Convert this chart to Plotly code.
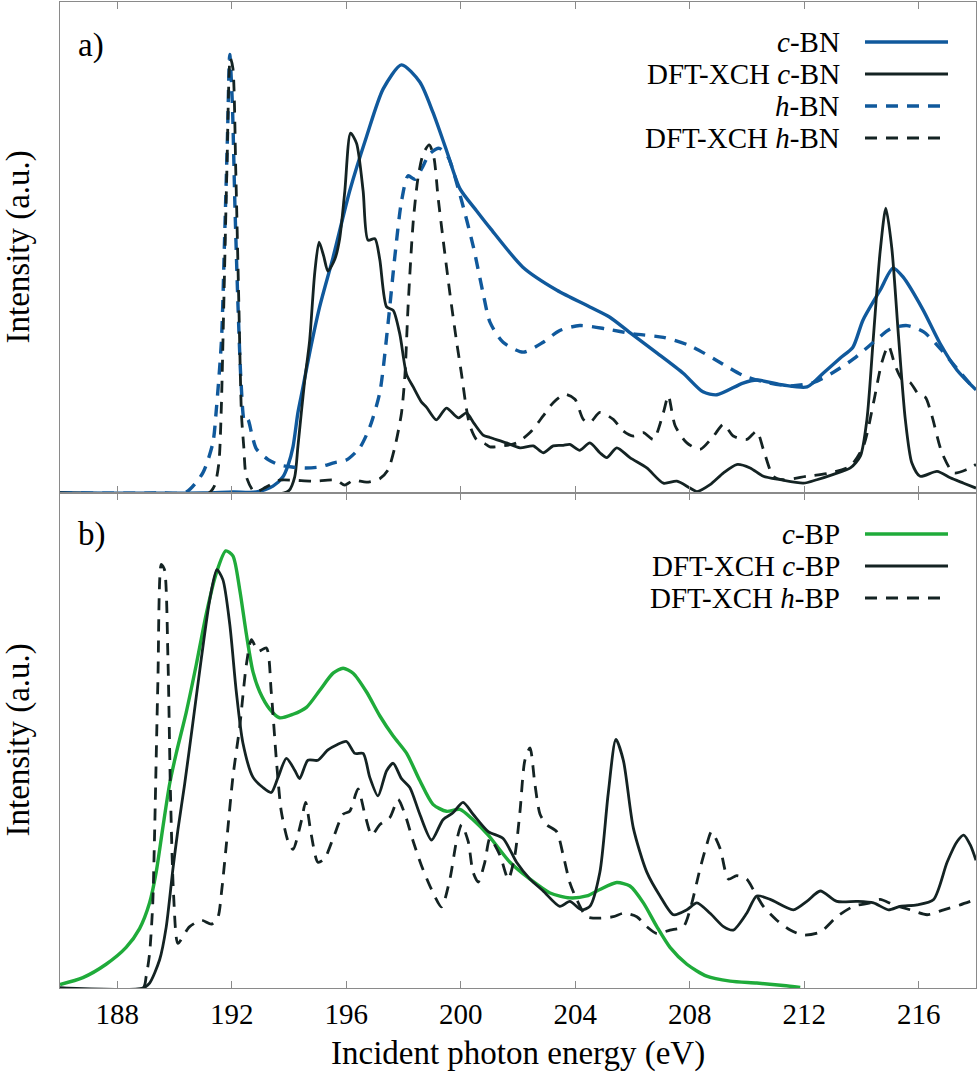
import plotly.graph_objects as go
from plotly.subplots import make_subplots

# ---------------- data (energy in eV, intensity in a.u.) ----------------
cbn_e = [186.0, 191.0, 192.04, 192.86, 193.44, 193.79, 193.97, 194.14, 194.31, 194.47,
         194.72, 195.07, 195.54, 196.12, 196.71, 197.29, 197.93, 198.57, 199.03, 199.50,
         199.97, 200.55, 201.02, 202.17, 203.36, 204.51, 205.21, 205.92, 206.86, 207.77,
         208.46, 208.95, 209.86, 210.35, 211.26, 212.10, 212.66, 213.26, 213.70, 214.05,
         214.65, 215.10, 215.45, 216.15, 216.74, 217.34, 218.0]
cbn_i = [0, 0, 0.2, 0.2, 1.4, 3.3, 5.7, 9.4, 16.3, 21.0,
         28.5, 37.9, 48.0, 61.5, 72.6, 82.3, 87.2, 83.7, 77.5, 69.8,
         62.0, 57.5, 54.0, 46.0, 41.3, 37.9, 35.8, 32.6, 28.5, 24.4,
         20.6, 20.0, 22.4, 23.0, 22.0, 21.6, 24.4, 27.5, 29.7, 35.2,
         41.3, 45.8, 44.0, 37.3, 30.5, 25.0, 21.0]

dft_cbn_e = [186.0, 193.8, 194.0, 194.2, 194.31, 194.43, 194.55, 194.72, 194.90, 195.05,
             195.21, 195.36, 195.60, 195.77, 195.95, 196.15, 196.36, 196.59, 196.76, 197.00,
             197.17, 197.41, 197.64, 197.87, 198.11, 198.34, 198.63, 198.80, 199.15, 199.50,
             199.91, 200.20, 200.45, 200.78, 201.02, 201.60, 202.07, 202.53, 202.88, 203.23,
             203.58, 203.81, 204.16, 204.51, 204.86, 205.10, 205.45, 205.91, 206.50, 207.08,
             207.55, 208.01, 208.25, 208.71, 209.18, 209.64, 210.11, 210.57, 211.16, 211.97,
             212.44, 213.02, 213.61, 213.96, 214.19, 214.42, 214.65, 214.85, 215.06, 215.29,
             215.53, 215.76, 216.05, 216.64, 217.10, 217.57, 218.0]
dft_cbn_i = [0, 0, 0.5, 3.3, 9.4, 16.3, 23.0, 31.0, 44.9, 51.1,
             48.3, 45.2, 47.6, 51.8, 61.5, 73.3, 71.2, 61.5, 51.5, 51.8,
             47.6, 37.9, 37.2, 32.4, 24.1, 21.6, 18.5, 17.5, 14.9, 17.3,
             15.3, 16.3, 14.3, 11.8, 11.3, 10.2, 9.2, 9.6, 8.2, 9.6,
             9.7, 9.9, 8.7, 10.2, 8.2, 7.2, 9.2, 7.2, 5.1, 2.0,
             2.4, 1.0, 0.3, 1.7, 4.1, 5.8, 5.1, 3.4, 2.7, 2.0,
             2.7, 3.8, 5.1, 7.5, 15.0, 32.1, 49.1, 58.0, 49.8, 32.1,
             15.0, 6.1, 3.4, 4.4, 3.1, 2.0, 1.0]

hbn_e = [186.0, 189.5, 190.41, 190.99, 191.34, 191.46, 191.64, 191.75, 191.85, 191.93,
         192.02, 192.11, 192.22, 192.33, 192.45, 192.56, 192.70, 192.86, 193.27, 193.67,
         194.10, 194.60, 195.07, 195.60, 196.00, 196.47, 196.82, 197.17, 197.46, 197.70,
         197.93, 198.16, 198.40, 198.63, 198.92, 199.25, 199.56, 199.97, 200.43, 200.78,
         201.02, 201.48, 202.18, 202.88, 203.46, 204.16, 205.10, 206.03, 207.08, 208.01,
         208.94, 209.87, 210.69, 211.51, 212.32, 213.02, 213.72, 214.42, 215.00, 215.59,
         216.17, 216.75, 217.34, 218.0]
hbn_i = [0, 0, 0.2, 4.1, 10.2, 16.9, 31.0, 51.8, 72.6, 89.3,
         79.5, 58.7, 37.9, 22.0, 14.5, 15.0, 12.0, 9.0, 6.8, 5.7,
         5.3, 5.1, 5.3, 6.2, 6.7, 9.2, 13.4, 20.4, 34.5, 48.3,
         59.4, 64.6, 63.9, 66.0, 69.1, 70.2, 68.4, 60.8, 50.4, 40.7,
         34.8, 30.7, 28.7, 30.7, 33.1, 34.1, 33.4, 32.4, 31.7, 30.0,
         27.0, 23.9, 22.5, 21.8, 22.5, 24.6, 27.3, 30.7, 33.4, 34.1,
         32.8, 29.4, 25.3, 20.8]

dft_hbn_e = [186.0, 191.2, 191.40, 191.55, 191.63, 191.72, 191.83, 191.95, 192.04, 192.14,
             192.25, 192.34, 192.42, 192.51, 192.80, 193.20, 193.67, 194.14, 194.84, 195.65,
             195.95, 196.25, 196.71, 197.17, 197.46, 197.70, 197.93, 198.05, 198.16, 198.34,
             198.51, 198.69, 198.90, 199.06, 199.21, 199.38, 199.62, 199.85, 200.03, 200.20,
             200.32, 200.55, 200.85, 201.02, 201.48, 201.95, 202.42, 202.88, 203.23, 203.64,
             203.99, 204.28, 204.51, 204.86, 205.33, 205.68, 206.03, 206.38, 206.73, 207.08,
             207.25, 207.49, 207.90, 208.36, 208.83, 209.18, 209.52, 209.99, 210.34, 210.57,
             210.92, 211.27, 212.09, 212.91, 213.61, 214.07, 214.42, 214.71, 214.94, 215.18,
             215.41, 215.70, 215.99, 216.23, 216.46, 216.81, 217.22, 217.69, 218.0]
dft_hbn_i = [0, 0, 1.5, 6.1, 16.3, 37.9, 65.7, 88.6, 86.5, 65.7,
             37.9, 16.0, 9.4, 3.3, 0.2, 1.2, 2.6, 2.6, 2.4, 2.6,
             1.6, 2.6, 2.2, 2.9, 4.7, 9.4, 16.3, 24.0, 38.0, 55.3,
             64.3, 69.1, 70.9, 68.4, 60.1, 51.8, 40.7, 31.0, 24.1, 17.1,
             13.7, 10.9, 10.0, 9.4, 9.6, 10.2, 12.3, 15.7, 18.4, 20.1,
             19.1, 15.0, 14.3, 16.4, 15.0, 12.6, 11.6, 12.3, 10.9, 16.4,
             19.8, 13.7, 10.2, 8.9, 11.6, 14.0, 11.6, 10.9, 12.6, 8.9,
             3.4, 2.7, 3.4, 4.1, 5.5, 9.6, 18.4, 26.6, 30.0, 25.9,
             23.2, 22.5, 20.1, 19.5, 15.7, 8.2, 4.1, 4.8, 5.8]

cbp_e = [186.0, 186.80, 187.61, 188.31, 188.78, 189.13, 189.36, 189.59, 189.83, 190.06,
         190.41, 190.76, 191.11, 191.46, 191.79, 192.04, 192.28, 192.51, 192.74, 192.98,
         193.32, 193.67, 194.14, 194.61, 195.07, 195.54, 195.89, 196.24, 196.71, 197.17,
         197.64, 198.11, 198.57, 199.03, 199.50, 199.97, 200.43, 200.96, 201.72, 202.42,
         203.12, 203.81, 204.40, 204.86, 205.45, 205.91, 206.38, 206.85, 207.31, 207.90,
         208.59, 209.41, 210.34, 211.27, 211.86]
cbp_i = [0.7, 2.1, 4.8, 8.2, 12.0, 17.2, 23.4, 32.3, 41.2, 47.4,
         55.7, 65.3, 75.6, 83.8, 88.3, 87.3, 80.4, 71.5, 63.9, 59.8,
         56.4, 54.6, 55.3, 56.7, 60.1, 63.6, 64.6, 63.6, 59.8, 55.0,
         50.9, 47.4, 41.9, 37.1, 35.7, 36.1, 34.0, 30.9, 25.4, 22.0,
         19.2, 18.2, 18.6, 19.9, 21.3, 20.6, 17.2, 12.4, 8.2, 4.8,
         2.4, 1.4, 1.0, 0.5, 0.1]

dft_cbp_e = [186.0, 188.9, 189.13, 189.48, 189.71, 189.94, 190.12, 190.35, 190.64, 190.94,
             191.23, 191.48, 191.69, 191.93, 192.16, 192.39, 192.74, 193.09, 193.38, 193.62,
             193.91, 194.20, 194.37, 194.66, 195.01, 195.36, 195.66, 196.01, 196.30, 196.59,
             196.82, 197.11, 197.41, 197.64, 197.93, 198.22, 198.57, 198.98, 199.38, 199.73,
             200.08, 200.43, 200.96, 201.48, 201.95, 202.42, 202.88, 203.46, 203.81, 204.22,
             204.51, 204.86, 205.15, 205.42, 205.68, 206.03, 206.50, 206.96, 207.43, 207.90,
             208.25, 208.71, 209.18, 209.52, 209.99, 210.34, 210.81, 211.62, 212.09, 212.56,
             213.14, 213.84, 214.42, 214.94, 215.35, 215.94, 216.52, 216.99, 217.34, 217.57,
             217.80, 218.0]
dft_cbp_i = [0, 0, 1.0, 5.7, 12.3, 23.8, 32.0, 41.0, 53.5, 66.7,
             78.4, 84.5, 82.5, 73.5, 59.8, 49.5, 42.6, 40.5, 39.5, 42.6,
             46.4, 44.0, 42.3, 46.0, 46.0, 48.1, 49.1, 49.8, 47.4, 47.4,
             42.6, 38.8, 43.9, 45.4, 42.3, 40.5, 35.1, 29.9, 34.0, 35.4,
             37.5, 35.1, 31.6, 30.2, 25.4, 22.0, 19.6, 16.5, 17.5, 15.8,
             16.5, 23.4, 39.2, 50.2, 46.0, 32.3, 23.4, 18.6, 14.8, 15.8,
             17.2, 15.1, 12.4, 11.7, 15.1, 18.6, 17.9, 15.8, 17.5, 19.6,
             17.5, 17.5, 17.2, 15.8, 16.5, 16.8, 17.9, 25.4, 29.6, 30.9,
             28.9, 25.8]

dft_hbp_e = [186.0, 188.9, 189.01, 189.13, 189.24, 189.30, 189.42, 189.54, 189.65, 189.77,
             189.86, 189.97, 190.12, 190.41, 190.53, 190.94, 191.29, 191.52, 191.64, 191.81,
             192.04, 192.28, 192.51, 192.69, 192.92, 193.21, 193.38, 193.56, 193.73, 193.97,
             194.14, 194.43, 194.58, 194.78, 195.01, 195.24, 195.54, 195.89, 196.12, 196.41,
             196.65, 196.89, 197.17, 197.52, 197.81, 198.05, 198.34, 198.63, 198.98, 199.33,
             199.62, 199.85, 200.03, 200.26, 200.43, 200.61, 200.84, 201.02, 201.37, 201.66,
             201.89, 202.07, 202.24, 202.42, 202.59, 202.77, 203.00, 203.35, 203.58, 203.81,
             204.05, 204.40, 204.86, 205.33, 205.68, 206.15, 206.50, 206.85, 207.31, 207.78,
             208.01, 208.36, 208.59, 208.76, 209.06, 209.35, 209.64, 209.99, 210.22, 210.57,
             211.04, 211.51, 211.97, 212.56, 213.14, 213.72, 214.30, 214.65, 215.12, 215.70,
             216.29, 216.87, 217.45, 218.0]
dft_hbp_i = [0, 0, 2.3, 7.0, 17.0, 30.0, 62.0, 85.6, 84.5, 66.7,
             39.2, 18.6, 9.0, 11.5, 12.4, 13.7, 12.9, 14.4, 19.2, 28.9,
             42.6, 52.9, 65.3, 70.4, 68.0, 68.7, 59.8, 46.0, 35.7, 29.6,
             28.0, 33.7, 37.5, 30.9, 25.4, 26.1, 30.2, 35.1, 35.7, 40.2,
             35.1, 30.9, 33.0, 34.4, 38.1, 35.1, 29.6, 24.7, 19.9, 16.4,
             22.0, 29.6, 33.0, 29.6, 23.4, 21.4, 25.4, 30.2, 26.8, 22.0,
             26.8, 35.7, 46.0, 48.5, 41.2, 35.1, 33.0, 31.6, 26.8, 21.3,
             17.9, 14.4, 14.1, 14.4, 15.1, 14.4, 12.4, 11.0, 11.7, 12.4,
             15.8, 24.1, 28.9, 31.6, 28.2, 22.0, 22.7, 22.0, 19.9, 16.5,
             13.7, 11.7, 10.7, 11.3, 14.4, 16.5, 17.2, 17.9, 16.8, 15.8,
             14.8, 15.8, 16.8, 17.9]

x_ticks = [188, 192, 196, 200, 204, 208, 212, 216]
top_labels = ["<i>c</i>-BN", "DFT-XCH <i>c</i>-BN", "<i>h</i>-BN", "DFT-XCH <i>h</i>-BN"]
bot_labels = ["<i>c</i>-BP", "DFT-XCH <i>c</i>-BP", "DFT-XCH <i>h</i>-BP"]

# ---------------- styles ----------------
BLUE = "#10599c"
GREEN = "#1fab3a"
DARK = "#142323"
DASH = "12px,9px"
FONT = "Liberation Serif"
FRAME = "#8a8a8a"
TXT = 33
LEG = 29

W, H = 980, 1087
L, R, T, B = 60, 4, 2, 99
PW, PH = W - L - R, H - T - B


def px(xp):
    return (xp - L) / PW


def py(yp):
    return (H - B - yp) / PH


fig = make_subplots(rows=2, cols=1, shared_xaxes=True, vertical_spacing=0)

top_series = [
    (cbn_e, cbn_i, BLUE, "solid", 3.4),
    (dft_cbn_e, dft_cbn_i, DARK, "solid", 2.8),
    (hbn_e, hbn_i, BLUE, DASH, 3.4),
    (dft_hbn_e, dft_hbn_i, DARK, DASH, 2.8),
]
bot_series = [
    (cbp_e, cbp_i, GREEN, "solid", 3.4),
    (dft_cbp_e, dft_cbp_i, DARK, "solid", 2.8),
    (dft_hbp_e, dft_hbp_i, DARK, DASH, 2.8),
]
for (xs, ys, col, dash, w), name in zip(top_series, top_labels):
    fig.add_trace(go.Scatter(x=xs, y=ys, mode="lines", name=name,
                             line=dict(color=col, dash=dash, width=w, shape="spline", smoothing=0.7),
                             showlegend=False), row=1, col=1)
for (xs, ys, col, dash, w), name in zip(bot_series, bot_labels):
    fig.add_trace(go.Scatter(x=xs, y=ys, mode="lines", name=name,
                             line=dict(color=col, dash=dash, width=w, shape="spline", smoothing=0.7),
                             showlegend=False), row=2, col=1)

split = py(493)
axis_common = dict(range=[186, 218], tickvals=x_ticks, ticks="inside", ticklen=7,
                   tickcolor=FRAME, tickwidth=1, showline=True, linecolor=FRAME,
                   linewidth=1.3, mirror="ticks", showgrid=False, zeroline=False,
                   tickfont=dict(family=FONT, size=29, color="black"))
fig.update_xaxes(**axis_common)
fig.update_xaxes(showticklabels=False, row=1, col=1)
fig.update_xaxes(showticklabels=True, row=2, col=1)
fig.update_yaxes(range=[0, 100], showticklabels=False, ticks="", showline=True,
                 linecolor=FRAME, linewidth=1.3, mirror=True, showgrid=False, zeroline=False)
fig.update_layout(yaxis=dict(domain=[split, 1]), yaxis2=dict(domain=[0, split]))

ann = []
shapes = []
# y labels
for yc in [py(247.5), py(740.5)]:
    ann.append(dict(x=px(18), y=yc, xref="paper", yref="paper", text="Intensity (a.u.)",
                    textangle=-90, showarrow=False, xanchor="center", yanchor="middle",
                    font=dict(family=FONT, size=TXT, color="black")))
# x label
ann.append(dict(x=0.5, y=py(1053), xref="paper", yref="paper", text="Incident photon energy (eV)",
                showarrow=False, xanchor="center", yanchor="middle",
                font=dict(family=FONT, size=TXT, color="black")))
# panel labels
ann.append(dict(x=px(91), y=py(45), xref="paper", yref="paper", text="a)", showarrow=False,
                xanchor="center", yanchor="middle", font=dict(family=FONT, size=TXT, color="black")))
ann.append(dict(x=px(92), y=py(534), xref="paper", yref="paper", text="b)", showarrow=False,
                xanchor="center", yanchor="middle", font=dict(family=FONT, size=TXT, color="black")))

# manual legends (text on the left, line sample on the right)
top_rows = [42, 74, 106, 138]
bot_rows = [534, 566, 598]
for rows, labels, series in [(top_rows, top_labels, top_series), (bot_rows, bot_labels, bot_series)]:
    for yr, lab, s in zip(rows, labels, series):
        ann.append(dict(x=px(842), y=py(yr), xref="paper", yref="paper", text=lab, showarrow=False,
                        xanchor="right", yanchor="middle",
                        font=dict(family=FONT, size=LEG, color="black")))
        shapes.append(dict(type="line", xref="paper", yref="paper", x0=px(865), x1=px(948),
                           y0=py(yr), y1=py(yr), line=dict(color=s[2], width=s[4], dash=s[3])))

fig.update_layout(width=W, height=H, margin=dict(l=L, r=R, t=T, b=B),
                  plot_bgcolor="white", paper_bgcolor="white",
                  annotations=ann, shapes=shapes, showlegend=False)

fig.write_html("out.html", config={"displayModeBar": False},
               post_script="document.body.style.margin='0px';document.body.style.overflow='hidden';")
